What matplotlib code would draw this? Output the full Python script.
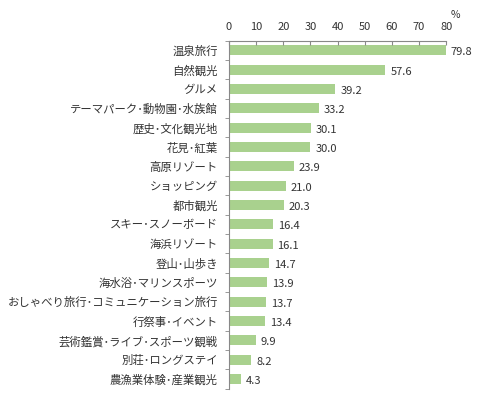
import matplotlib
matplotlib.use("Agg")
import matplotlib.pyplot as plt
import numpy as np

plt.rcParams['font.family'] = ['Noto Sans CJK JP', 'DejaVu Sans']

# categories, top to bottom
categories = [
    "温泉旅行", "自然観光", "グルメ", "テーマパーク･動物園･水族館",
    "歴史･文化観光地", "花見･紅葉", "高原リゾート", "ショッピング",
    "都市観光", "スキー･スノーボード", "海浜リゾート", "登山･山歩き",
    "海水浴･マリンスポーツ", "おしゃべり旅行･コミュニケーション旅行",
    "行祭事･イベント", "芸術鑑賞･ライブ･スポーツ観戦", "別荘･ロングステイ",
    "農漁業体験･産業観光",
]
values = [79.8, 57.6, 39.2, 33.2, 30.1, 30.0, 23.9, 21.0, 20.3,
          16.4, 16.1, 14.7, 13.9, 13.7, 13.4, 9.9, 8.2, 4.3]
x_ticks = [0, 10, 20, 30, 40, 50, 60, 70, 80]

text_color = "#333333"
axis_color = "#888888"

fig = plt.figure(figsize=(4.84, 4.00), dpi=100)
ax = fig.add_axes([0.473, 0.028, 0.449, 0.87])

y = np.arange(len(categories))
ax.barh(y, values, height=0.52, color="#A9D18E")
for yi, v in zip(y, values):
    ax.text(v + 1.8, yi + 0.1, f"{v:.1f}", va="center", ha="left",
            fontsize=8, color=text_color)

ax.set_ylim(len(categories) - 0.5, -0.5)
ax.set_xlim(0, 80)
ax.xaxis.tick_top()
ax.set_xticks(x_ticks)
ax.tick_params(axis="x", direction="in", length=3, colors=axis_color,
               labelcolor=text_color, labelsize=8, pad=6)

# category labels at bar centres, ticks at category boundaries
ax.set_yticks(y)
ax.set_yticklabels(categories, fontsize=8.2, color=text_color)
ax.tick_params(axis="y", length=0, pad=8)
ax.set_yticks(np.arange(len(categories) + 1) - 0.5, minor=True)
ax.tick_params(axis="y", which="minor", length=3, direction="out",
               color=axis_color)

for side in ["right", "bottom"]:
    ax.spines[side].set_visible(False)
ax.spines["top"].set_color(axis_color)
ax.spines["left"].set_color(axis_color)

fig.text(0.94, 0.955, "%", fontsize=7.5, color=text_color, ha="center")

fig.savefig("out.png", dpi=100)
